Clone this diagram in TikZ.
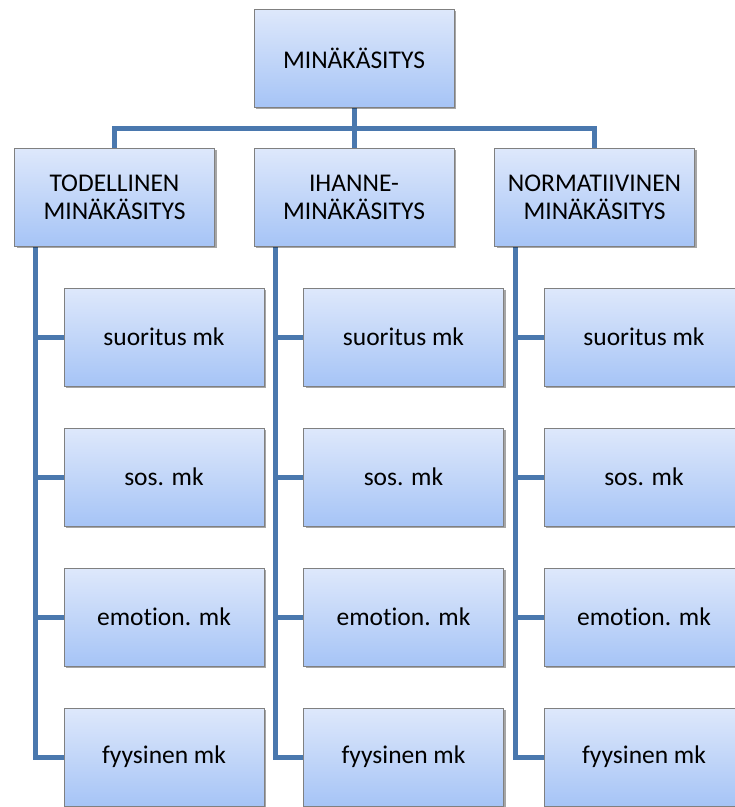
\documentclass[tikz,border=0pt]{standalone}
\usepackage{fontspec}
\setmainfont{Carlito}[Ligatures=NoCommon]
\usetikzlibrary{shadows,backgrounds}
\definecolor{linec}{HTML}{4A78AE}
\definecolor{topc}{HTML}{DEE8FB}
\definecolor{botc}{HTML}{A6C4F6}
\definecolor{bordc}{HTML}{808080}
\tikzset{
  box/.style={draw=bordc, line width=0.8pt, top color=topc, bottom color=botc,
    minimum width=200pt, minimum height=98pt, inner sep=0pt, align=center,
    font=\fontsize{25.5}{28}\selectfont, text=black,
    drop shadow={shadow xshift=2pt, shadow yshift=-2pt, opacity=0.35, fill=black}},
  conn/.style={draw=linec, line width=5pt}
}
\begin{document}
\begin{tikzpicture}[x=1pt,y=-1pt]
\useasboundingbox (0,0) rectangle (735,807);
\clip (0,0) rectangle (735,807);
% top and level 2
\node[box] (top) at (354,58) {MINÄKÄSITYS};
\node[box] (l1) at (114.5,197) {TODELLINEN\\MINÄKÄSITYS};
\node[box] (l2) at (354,197) {IHANNE-\\MINÄKÄSITYS};
\node[box] (l3) at (594.5,197) {NORMATIIVINEN\\MINÄKÄSITYS};
% children
\foreach \c/\x in {a/164, b/403.5, c/644}{
  \node[box] (\c1) at (\x,337) {suoritus mk};
  \node[box] (\c2) at (\x,477) {sos. mk};
  \node[box] (\c3) at (\x,617) {emotion. mk};
  \node[box] (\c4) at (\x,757) {fyysinen mk};
}
\coordinate (bus) at (354,128);
\coordinate (ta) at ([xshift=21pt]l1.south west);
\coordinate (tb) at ([xshift=22pt]l2.south west);
\coordinate (tc) at ([xshift=21pt]l3.south west);
\begin{scope}[on background layer]
  \draw[conn] (top.south) -- (l2.north);
  \draw[conn] (l1.north) |- (bus) -| (l3.north);
  \foreach \t/\c in {ta/a, tb/b, tc/c}{
    \draw[conn] (\t) |- (\c4.west);
    \draw[conn] (\t |- \c1.west) -- (\c1.west);
    \draw[conn] (\t |- \c2.west) -- (\c2.west);
    \draw[conn] (\t |- \c3.west) -- (\c3.west);
  }
\end{scope}
\end{tikzpicture}
\end{document}
